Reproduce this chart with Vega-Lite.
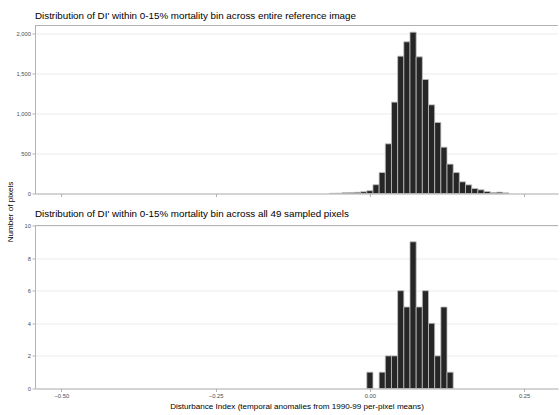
{
  "$schema": "https://vega.github.io/schema/vega-lite/v6.json",
  "padding": {"left": 6, "top": 10.5, "right": 0, "bottom": 0},
  "background": "white",
  "spacing": 32,
  "bounds": "flush",
  "config": {
    "font": "Liberation Sans",
    "view": {"stroke": null},
    "title": {"fontSize": 9.8, "fontWeight": "normal", "color": "#000000", "anchor": "start", "frame": "group", "offset": 4, "font": "Liberation Sans"},
    "axis": {"domainColor": "#b3b3b3", "tickColor": "#b3b3b3", "tickSize": 3, "labelFontSize": 5.8, "labelColor": "#4d4d4d", "titleFontSize": 8.1, "titleFontWeight": "normal", "titleColor": "#000000", "labelFont": "Liberation Sans", "titleFont": "Liberation Sans", "gridColor": "#ebebeb", "gridWidth": 1, "labelPadding": 1.5},
    "axisX": {"grid": false, "labelPadding": 1}
  },
  "datasets": {
    "image": [
      {"lo": -0.065, "hi": -0.055, "n": 3},
      {"lo": -0.055, "hi": -0.045, "n": 4},
      {"lo": -0.045, "hi": -0.035, "n": 10},
      {"lo": -0.035, "hi": -0.025, "n": 12},
      {"lo": -0.025, "hi": -0.015, "n": 15},
      {"lo": -0.015, "hi": -0.005, "n": 22},
      {"lo": -0.005, "hi": 0.005, "n": 35},
      {"lo": 0.005, "hi": 0.015, "n": 110},
      {"lo": 0.015, "hi": 0.025, "n": 262},
      {"lo": 0.025, "hi": 0.035, "n": 621},
      {"lo": 0.035, "hi": 0.045, "n": 1142},
      {"lo": 0.045, "hi": 0.055, "n": 1717},
      {"lo": 0.055, "hi": 0.065, "n": 1896},
      {"lo": 0.065, "hi": 0.075, "n": 2017},
      {"lo": 0.075, "hi": 0.085, "n": 1708},
      {"lo": 0.085, "hi": 0.095, "n": 1425},
      {"lo": 0.095, "hi": 0.105, "n": 1108},
      {"lo": 0.105, "hi": 0.115, "n": 888},
      {"lo": 0.115, "hi": 0.125, "n": 579},
      {"lo": 0.125, "hi": 0.135, "n": 367},
      {"lo": 0.135, "hi": 0.145, "n": 262},
      {"lo": 0.145, "hi": 0.155, "n": 146},
      {"lo": 0.155, "hi": 0.165, "n": 108},
      {"lo": 0.165, "hi": 0.175, "n": 62},
      {"lo": 0.175, "hi": 0.185, "n": 46},
      {"lo": 0.185, "hi": 0.195, "n": 25},
      {"lo": 0.195, "hi": 0.205, "n": 12},
      {"lo": 0.205, "hi": 0.215, "n": 17},
      {"lo": 0.215, "hi": 0.225, "n": 8}
    ],
    "sampled": [
      {"lo": -0.005, "hi": 0.005, "n": 1},
      {"lo": 0.015, "hi": 0.025, "n": 1},
      {"lo": 0.025, "hi": 0.035, "n": 2},
      {"lo": 0.035, "hi": 0.045, "n": 2},
      {"lo": 0.045, "hi": 0.055, "n": 6},
      {"lo": 0.055, "hi": 0.065, "n": 5},
      {"lo": 0.065, "hi": 0.075, "n": 9},
      {"lo": 0.075, "hi": 0.085, "n": 5},
      {"lo": 0.085, "hi": 0.095, "n": 6},
      {"lo": 0.095, "hi": 0.105, "n": 4},
      {"lo": 0.105, "hi": 0.115, "n": 2},
      {"lo": 0.115, "hi": 0.125, "n": 5},
      {"lo": 0.125, "hi": 0.135, "n": 1}
    ]
  },
  "vconcat": [
    {
      "title": "Distribution of DI' within 0-15% mortality bin across entire reference image",
      "width": 523,
      "height": 168,
      "data": {"name": "image"},
      "layer": [
        {
          "mark": {"type": "bar", "fill": "#262626", "stroke": "#bebebe", "strokeWidth": 0.8, "orient": "vertical"},
          "encoding": {
            "x": {"field": "lo", "type": "quantitative", "scale": {"domain": [-0.5345, 0.2967], "nice": false, "zero": false}, "axis": {"values": [-0.5, -0.25, 0, 0.25], "labels": false, "title": null}},
            "x2": {"field": "hi"},
            "y": {"field": "n", "type": "quantitative", "scale": {"domain": [0, 2100], "nice": false}, "axis": {"values": [0, 500, 1000, 1500, 2000], "format": ",.0f", "title": "Number of pixels", "titleX": -21, "titleY": 186}},
            "y2": {"datum": 0}
          }
        },
        {
          "mark": {"type": "rule", "color": "#b3b3b3", "strokeWidth": 1},
          "encoding": {"y": {"datum": 2100, "type": "quantitative", "axis": {"values": [0, 500, 1000, 1500, 2000], "format": ",.0f", "title": "Number of pixels", "titleX": -21, "titleY": 186}}}
        }
      ]
    },
    {
      "title": "Distribution of DI' within 0-15% mortality bin across all 49 sampled pixels",
      "width": 523,
      "height": 163,
      "data": {"name": "sampled"},
      "layer": [
        {
          "mark": {"type": "bar", "fill": "#262626", "stroke": "#bebebe", "strokeWidth": 0.8, "orient": "vertical"},
          "encoding": {
            "x": {"field": "lo", "type": "quantitative", "scale": {"domain": [-0.5345, 0.2967], "nice": false, "zero": false}, "axis": {"values": [-0.5, -0.25, 0, 0.25], "format": ".2f", "title": "Disturbance Index (temporal anomalies from 1990-99 per-pixel means)", "titlePadding": 4}},
            "x2": {"field": "hi"},
            "y": {"field": "n", "type": "quantitative", "scale": {"domain": [0, 10], "nice": false}, "axis": {"values": [0, 2, 4, 6, 8, 10], "format": "d", "title": null}},
            "y2": {"datum": 0}
          }
        },
        {
          "mark": {"type": "rule", "color": "#b3b3b3", "strokeWidth": 1},
          "encoding": {"y": {"datum": 10, "type": "quantitative", "axis": {"values": [0, 2, 4, 6, 8, 10], "format": "d", "title": null}}}
        }
      ]
    }
  ]
}
